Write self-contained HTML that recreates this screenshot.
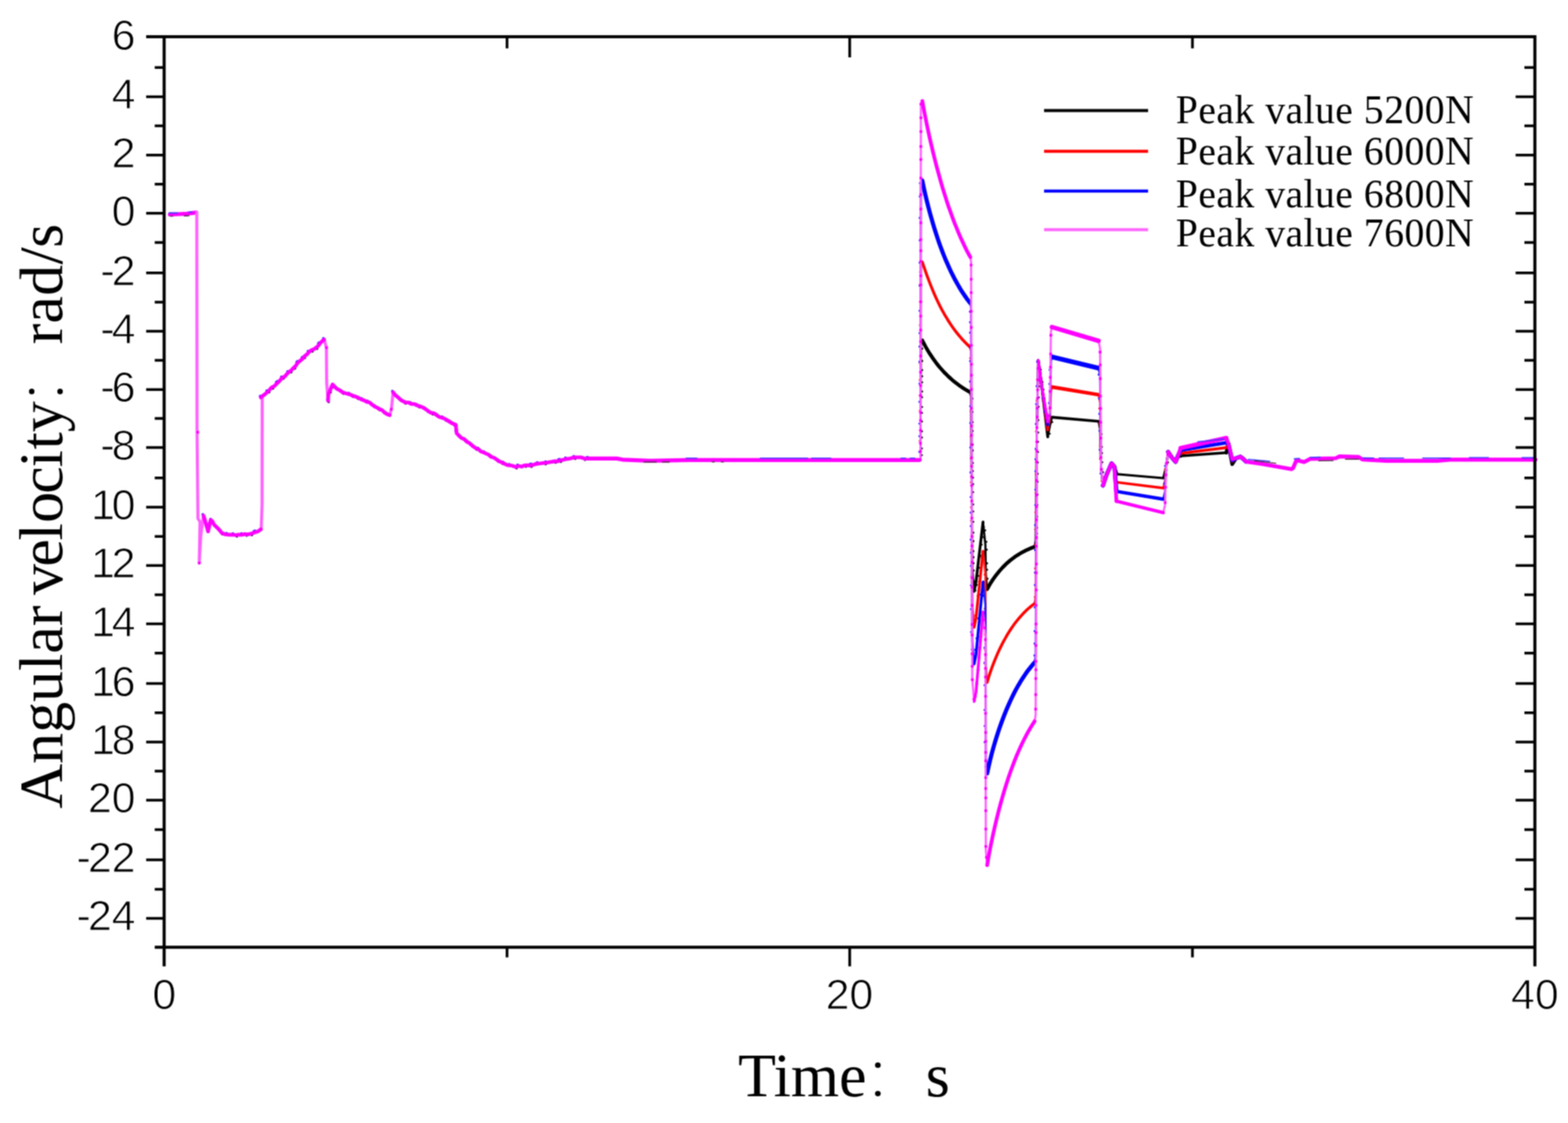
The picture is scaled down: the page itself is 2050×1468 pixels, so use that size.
<!DOCTYPE html>
<html lang="en"><head><meta charset="utf-8"><title>Angular velocity vs time</title>
<style>
html,body{margin:0;padding:0;background:#fff;}
body{width:2050px;height:1468px;overflow:hidden;}
svg{display:block;}
.ax{stroke:#000;stroke-width:4.0;fill:none;stroke-linecap:butt;}
.tk{stroke-width:3.5px;}
.tl{font-family:"Liberation Sans",sans-serif;font-size:56px;fill:#000;stroke:#fff;stroke-width:1px;}
.lg{font-family:"Liberation Serif",serif;font-size:51.8px;letter-spacing:0.64px;fill:#000;}
.at{font-family:"Liberation Serif","Noto Serif CJK SC",serif;font-size:81px;fill:#000;}
.cj{font-family:"Noto Serif CJK SC","Liberation Serif",serif;font-size:91.5px;stroke:#fff;stroke-width:3.8px;}
.c{fill:none;stroke-linejoin:round;stroke-linecap:round;}
</style></head><body>
<svg width="2050" height="1468" viewBox="0 0 2050 1468" role="img" aria-label="Angular velocity versus time for four peak force values">
<defs><filter id="soft" x="0" y="0" width="2050" height="1468" filterUnits="userSpaceOnUse" color-interpolation-filters="sRGB"><feConvolveMatrix order="3" kernelMatrix="1 2 1 2 4 2 1 2 1" divisor="16" edgeMode="duplicate" preserveAlpha="false"/></filter></defs>
<rect x="0" y="0" width="2050" height="1468" fill="#fff"/>
<g filter="url(#soft)">
<rect x="0" y="0" width="2050" height="1468" fill="#fff"/>
<g class="c" stroke="#000000">
<path stroke="#000000" stroke-width="2.8" d="M1203.4 601.3L1204.0 449.0L1205.8 445.0M1267.9 512.4L1269.6 518.4L1271.1 743.0L1273.6 773.0M1285.2 682.4L1288.3 712.4L1288.9 750.2L1290.6 770.2M1352.6 714.7L1354.0 706.7L1355.6 560.0L1357.4 471.4M1369.8 571.0L1372.6 557.0L1374.0 551.4L1375.2 545.4M1436.3 550.7L1438.2 560.7L1439.5 610.0L1442.0 634.7M1520.8 625.0L1523.2 615.0L1524.6 610.0L1527.2 590.8"/>
<path stroke-width="3.6" d="M1273.6 773.0L1276.0 761.0L1285.2 682.4M1357.4 471.4L1362.0 505.0L1369.8 571.0"/>
<path stroke-width="3.6" d="M1375.2 545.4L1436.3 550.7"/>
<path stroke-width="3.0" d="M1459.6 619.7L1520.8 625.0"/>
<path stroke-width="3.4" d="M1543.5 596.0L1603.3 591.7"/>
<path stroke-width="4.8" d="M1205.8 445.0L1207.8 448.9L1209.8 452.6L1211.8 456.1L1213.8 459.5L1215.8 462.7L1217.8 465.7L1219.8 468.6L1221.8 471.4L1223.8 474.1L1225.8 476.7L1227.8 479.2L1229.8 481.5L1231.8 483.8L1233.8 486.0L1235.8 488.1L1237.9 490.1L1239.9 492.1L1241.9 493.9L1243.9 495.7L1245.9 497.5L1247.9 499.1L1249.9 500.7L1251.9 502.2L1253.9 503.7L1255.9 505.1L1257.9 506.4L1259.9 507.7L1261.9 509.0L1263.9 510.2L1265.9 511.3L1267.9 512.4M1290.6 770.2L1292.6 766.5L1294.6 763.1L1296.6 759.9L1298.6 756.9L1300.6 754.1L1302.6 751.4L1304.6 748.9L1306.6 746.5L1308.6 744.2L1310.6 742.0L1312.6 740.0L1314.6 738.0L1316.6 736.1L1318.6 734.4L1320.6 732.7L1322.6 731.1L1324.6 729.6L1326.6 728.1L1328.6 726.8L1330.6 725.5L1332.6 724.2L1334.6 723.0L1336.6 721.9L1338.6 720.9L1340.6 719.8L1342.6 718.9L1344.6 718.0L1346.6 717.1L1348.6 716.3L1350.6 715.5L1352.6 714.7M1442.0 634.7L1447.0 620.0L1453.2 605.7L1457.0 610.0L1459.6 619.7M1527.2 590.8L1532.0 598.0L1537.0 603.8L1540.0 596.0L1543.5 596.0M1603.3 591.7L1606.0 580.0L1611.0 606.7L1616.0 599.0L1621.6 597.0L1625.0 599.5L1629.2 603.5"/>
<path stroke-width="2.6" d="M1205.2 595.0h0.01M1205.3 586.2h0.01M1205.3 571.9h0.01M1205.3 563.9h0.01M1205.4 551.0h0.01M1205.4 539.8h0.01M1205.5 532.0h0.01M1205.5 519.3h0.01M1205.6 511.7h0.01M1205.6 499.8h0.01M1205.6 491.9h0.01M1205.7 483.7h0.01M1205.7 471.9h0.01M1205.8 455.8h0.01M1206.5 447.4h0.01M1271.4 521.1h0.01M1271.5 538.5h0.01M1271.6 551.9h0.01M1271.7 563.4h0.01M1271.8 581.2h0.01M1271.9 588.9h0.01M1272.0 605.3h0.01M1272.0 615.7h0.01M1272.1 624.4h0.01M1272.2 632.9h0.01M1272.2 643.4h0.01M1272.3 659.4h0.01M1272.4 668.6h0.01M1272.5 682.1h0.01M1272.6 696.2h0.01M1272.7 707.4h0.01M1272.7 720.5h0.01M1272.8 728.4h0.01M1272.9 736.2h0.01M1273.1 745.7h0.01M1274.3 760.2h0.01M1275.3 771.9h0.01M1277.1 764.6h0.01M1278.8 752.7h0.01M1280.0 742.3h0.01M1281.8 726.6h0.01M1283.5 712.0h0.01M1284.7 702.2h0.01M1286.2 688.9h0.01M1288.1 693.3h0.01M1289.7 708.3h0.01M1290.2 718.6h0.01M1290.5 736.4h0.01M1290.6 744.8h0.01M1291.2 756.5h0.01M1355.2 709.9h0.01M1355.9 697.5h0.01M1356.0 689.9h0.01M1356.1 675.4h0.01M1356.3 660.0h0.01M1356.5 646.6h0.01M1356.6 629.9h0.01M1356.8 619.4h0.01M1356.9 604.6h0.01M1357.1 591.0h0.01M1357.2 577.6h0.01M1357.3 565.4h0.01M1357.6 549.2h0.01M1358.0 531.8h0.01M1358.2 519.5h0.01M1358.5 505.1h0.01M1358.7 497.2h0.01M1359.0 482.5h0.01M1360.8 483.2h0.01M1363.0 499.2h0.01M1364.3 509.3h0.01M1365.6 520.6h0.01M1367.3 535.0h0.01M1368.2 542.4h0.01M1369.6 554.5h0.01M1370.7 563.4h0.01M1372.4 567.0h0.01M1375.7 551.8h0.01M1439.2 556.3h0.01M1440.2 567.6h0.01M1440.6 584.2h0.01M1440.8 592.3h0.01M1441.2 604.3h0.01M1442.1 617.4h0.01M1443.7 634.1h0.01M1525.2 614.4h0.01M1527.1 604.5h0.01M1528.7 592.9h0.01"/>
</g>
<g class="c" stroke="#ff0000">
<path stroke="#ff2020" stroke-width="2.8" d="M1203.4 601.3L1204.0 346.5L1205.8 342.5M1267.9 453.4L1269.6 459.4L1271.1 790.0L1273.6 820.0M1285.2 720.6L1288.3 750.6L1288.9 872.0L1290.6 892.0M1352.6 788.9L1354.0 780.9L1355.6 560.0L1357.4 471.4M1369.8 562.0L1372.6 548.0L1374.0 511.9L1375.2 505.9M1436.3 516.0L1438.2 526.0L1439.5 610.0L1442.0 634.7M1520.8 638.0L1523.2 628.0L1524.6 610.0L1527.2 590.8"/>
<path stroke-width="3.6" d="M1273.6 820.0L1276.0 808.0L1285.2 720.6M1357.4 471.4L1362.0 505.0L1369.8 562.0"/>
<path stroke-width="4.8" d="M1375.2 505.9L1436.3 516.0"/>
<path stroke-width="3.4" d="M1459.6 630.4L1520.8 638.0"/>
<path stroke-width="3.8" d="M1543.5 592.7L1603.3 585.2"/>
<path stroke-width="3.8" d="M1205.8 342.5L1207.8 348.4L1209.8 354.2L1211.8 359.8L1213.8 365.2L1215.8 370.4L1217.8 375.4L1219.8 380.3L1221.8 384.9L1223.8 389.4L1225.8 393.7L1227.8 397.8L1229.8 401.8L1231.8 405.6L1233.8 409.2L1235.8 412.8L1237.9 416.1L1239.9 419.4L1241.9 422.5L1243.9 425.5L1245.9 428.4L1247.9 431.1L1249.9 433.8L1251.9 436.3L1253.9 438.8L1255.9 441.1L1257.9 443.4L1259.9 445.5L1261.9 447.6L1263.9 449.6L1265.9 451.5L1267.9 453.4M1290.6 892.0L1292.6 885.3L1294.6 879.1L1296.6 873.4L1298.6 868.0L1300.6 863.0L1302.6 858.2L1304.6 853.6L1306.6 849.2L1308.6 845.1L1310.6 841.1L1312.6 837.4L1314.6 833.8L1316.6 830.3L1318.6 827.0L1320.6 823.9L1322.6 820.9L1324.6 818.0L1326.6 815.2L1328.6 812.6L1330.6 810.1L1332.6 807.7L1334.6 805.4L1336.6 803.2L1338.6 801.1L1340.6 799.1L1342.6 797.2L1344.6 795.4L1346.6 793.7L1348.6 792.0L1350.6 790.4L1352.6 788.9M1442.0 634.7L1447.0 620.0L1453.2 605.7L1457.0 610.0L1459.6 630.4M1527.2 590.8L1532.0 598.0L1537.0 603.8L1540.0 596.0L1543.5 592.7M1603.3 585.2L1606.0 580.0L1611.0 603.0L1616.0 599.0L1621.6 597.0L1625.0 599.5L1629.2 603.5"/>
<path stroke-width="2.4" d="M1202.3 576.5h0.01M1202.4 537.0h0.01M1202.4 517.1h0.01M1202.4 496.7h0.01M1202.5 474.8h0.01M1202.5 453.0h0.01M1202.6 425.0h0.01M1202.7 394.5h0.01M1202.7 371.9h0.01M1202.8 355.6h0.01M1268.4 468.2h0.01M1268.6 498.2h0.01M1268.8 537.5h0.01M1268.9 570.5h0.01M1269.0 599.2h0.01M1269.2 630.4h0.01M1269.3 663.1h0.01M1269.4 680.6h0.01M1269.6 718.6h0.01M1269.7 753.8h0.01M1270.0 791.2h0.01M1275.1 804.7h0.01M1277.9 779.0h0.01M1279.8 760.4h0.01M1283.1 728.9h0.01M1285.0 729.9h0.01M1287.1 751.1h0.01M1287.2 771.2h0.01M1287.3 795.7h0.01M1287.4 813.2h0.01M1287.5 829.4h0.01M1287.6 849.3h0.01M1287.7 867.9h0.01M1352.8 780.4h0.01M1353.1 743.0h0.01M1353.3 711.9h0.01M1353.4 692.1h0.01M1353.6 669.7h0.01M1353.8 645.1h0.01M1354.0 620.0h0.01M1354.1 600.9h0.01M1354.4 564.0h0.01M1355.1 523.7h0.01M1355.7 496.2h0.01M1357.5 481.0h0.01M1360.1 499.5h0.01M1363.4 523.8h0.01M1366.4 546.3h0.01M1370.8 551.1h0.01M1371.9 534.4h0.01M1437.1 533.9h0.01M1437.4 553.7h0.01M1437.9 583.1h0.01M1438.1 599.9h0.01M1440.2 628.9h0.01M1523.1 613.9h0.01"/>
</g>
<g class="c" stroke="#0000ff">
<path stroke="#2020ff" stroke-width="2.8" d="M1203.4 601.3L1204.0 240.0L1205.8 236.0M1267.9 395.6L1269.6 401.6L1271.1 838.0L1273.6 868.0M1285.2 760.6L1288.3 790.6L1288.9 991.0L1290.6 1011.0M1352.6 866.0L1354.0 858.0L1355.6 560.0L1357.4 471.4M1369.8 555.5L1372.6 541.5L1374.0 472.5L1375.2 466.5M1436.3 481.2L1438.2 491.2L1439.5 610.0L1442.0 634.7M1520.8 652.5L1523.2 642.5L1524.6 610.0L1527.2 590.8"/>
<path stroke-width="3.6" d="M1273.6 868.0L1276.0 856.0L1285.2 760.6M1357.4 471.4L1362.0 505.0L1369.8 555.5"/>
<path stroke-width="6.2" d="M1375.2 466.5L1436.3 481.2"/>
<path stroke-width="4.4" d="M1459.6 642.3L1520.8 652.5"/>
<path stroke-width="4.6" d="M1543.5 588.4L1603.3 578.8"/>
<path stroke-width="5.4" d="M1205.8 236.0L1207.8 245.7L1209.8 254.6L1211.8 263.0L1213.8 270.9L1215.8 278.5L1217.8 285.6L1219.8 292.5L1221.8 299.1L1223.8 305.4L1225.8 311.5L1227.8 317.3L1229.8 322.9L1231.8 328.2L1233.8 333.4L1235.8 338.3L1237.9 343.1L1239.9 347.7L1241.9 352.1L1243.9 356.3L1245.9 360.3L1247.9 364.2L1249.9 367.9L1251.9 371.5L1253.9 375.0L1255.9 378.3L1257.9 381.5L1259.9 384.5L1261.9 387.4L1263.9 390.3L1265.9 393.0L1267.9 395.6M1290.6 1011.0L1292.6 1001.6L1294.6 993.1L1296.6 985.2L1298.6 977.9L1300.6 971.0L1302.6 964.4L1304.6 958.2L1306.6 952.2L1308.6 946.5L1310.6 941.0L1312.6 935.8L1314.6 930.7L1316.6 925.9L1318.6 921.3L1320.6 916.8L1322.6 912.6L1324.6 908.5L1326.6 904.6L1328.6 900.8L1330.6 897.2L1332.6 893.8L1334.6 890.4L1336.6 887.3L1338.6 884.2L1340.6 881.3L1342.6 878.4L1344.6 875.7L1346.6 873.2L1348.6 870.7L1350.6 868.3L1352.6 866.0M1442.0 634.7L1447.0 620.0L1453.2 605.7L1457.0 610.0L1459.6 642.3M1527.2 590.8L1532.0 598.0L1537.0 603.8L1540.0 596.0L1543.5 588.4M1603.3 578.8L1606.0 580.0L1611.0 601.5L1616.0 599.0L1621.6 597.0L1625.0 599.5L1629.2 603.5"/>
<path stroke-width="2.6" d="M1201.9 590.7h0.01M1202.0 570.2h0.01M1202.0 553.7h0.01M1202.0 525.2h0.01M1202.1 501.5h0.01M1202.1 472.9h0.01M1202.1 453.1h0.01M1202.2 435.5h0.01M1202.2 406.2h0.01M1202.3 373.5h0.01M1202.3 343.5h0.01M1202.4 314.3h0.01M1202.4 284.9h0.01M1202.5 257.0h0.01M1202.8 239.4h0.01M1268.1 407.4h0.01M1268.2 421.2h0.01M1268.2 434.9h0.01M1268.3 453.7h0.01M1268.3 472.0h0.01M1268.4 498.9h0.01M1268.5 531.0h0.01M1268.6 553.1h0.01M1268.7 584.9h0.01M1268.8 617.6h0.01M1269.0 649.7h0.01M1269.0 670.1h0.01M1269.1 687.7h0.01M1269.1 705.4h0.01M1269.2 722.5h0.01M1269.3 739.7h0.01M1269.4 765.3h0.01M1269.5 796.3h0.01M1269.6 826.2h0.01M1270.5 848.8h0.01M1275.1 849.4h0.01M1276.6 834.5h0.01M1279.1 808.4h0.01M1282.1 777.3h0.01M1285.6 778.7h0.01M1286.8 801.3h0.01M1286.9 818.0h0.01M1287.0 846.8h0.01M1287.0 866.6h0.01M1287.1 895.7h0.01M1287.2 928.1h0.01M1287.3 949.1h0.01M1287.3 970.3h0.01M1288.4 1002.2h0.01M1352.5 856.9h0.01M1352.6 841.2h0.01M1352.7 825.0h0.01M1352.8 793.9h0.01M1353.0 764.7h0.01M1353.1 748.6h0.01M1353.2 719.1h0.01M1353.4 686.4h0.01M1353.6 660.2h0.01M1353.7 640.1h0.01M1353.8 616.0h0.01M1353.9 600.2h0.01M1354.0 586.8h0.01M1354.2 554.3h0.01M1354.7 528.3h0.01M1355.2 504.7h0.01M1355.9 473.0h0.01M1358.6 491.2h0.01M1362.9 520.5h0.01M1365.5 537.7h0.01M1370.5 544.6h0.01M1371.4 526.7h0.01M1371.9 501.9h0.01M1372.3 483.6h0.01M1436.4 489.7h0.01M1437.0 520.9h0.01M1437.2 541.1h0.01M1437.5 563.3h0.01M1437.8 588.1h0.01M1438.9 619.1h0.01M1522.1 632.1h0.01M1523.2 609.0h0.01"/>
</g>
<path class="c" stroke="#1a0030" stroke-width="3.2" stroke-dasharray="0.1 13 0.1 7 0.1 19" transform="translate(0.9 1.7)" d="M266.0 674.0L267.5 678.5L269.0 684.0L270.0 687.6L271.0 690.8L272.0 694.6L272.9 691.0L273.8 687.3L274.6 682.6L275.5 679.6L277.7 681.5L279.8 685.8L282.0 688.0L284.7 690.5L287.3 693.3L290.0 696.7L295.0 698.7L300.0 699.0L304.0 698.9L308.0 699.5L312.0 698.8L316.0 699.1L320.0 698.1L324.0 698.7L328.5 697.6L333.0 696.0L337.0 694.7L341.0 692.0M341.0 519.5L343.8 517.2L346.5 515.2L349.2 512.7L352.0 510.0L355.2 506.4L358.5 504.8L361.7 501.5L364.3 499.2L367.0 496.1L369.6 493.2L372.3 492.2L374.9 489.0L377.8 486.3L380.8 484.1L383.7 481.0L386.6 478.2L389.5 474.0L392.4 471.6L395.3 469.2L398.3 465.4L401.2 463.3L404.1 460.0L407.2 457.8L410.2 456.6L413.2 454.5L416.3 451.7L418.8 448.4L421.2 445.8L423.7 443.9M428.9 523.8L429.2 518.5L429.6 514.3L431.3 511.2L433.1 506.3L434.8 502.5L437.7 505.7L440.6 508.4L444.2 510.2L447.9 512.8L451.4 514.0L454.9 514.9L458.5 516.0L462.0 517.6L465.5 518.6L469.0 520.2L472.5 522.3L476.1 523.4L479.6 525.3L483.1 526.0L486.4 528.8L489.7 531.3L493.0 532.9L496.3 534.8L499.6 536.2L502.9 539.4L506.2 541.6L509.5 542.8M513.9 512.8L516.8 516.5L519.7 518.8L522.6 521.6L526.3 524.2L530.0 526.0L533.9 526.2L537.8 528.1L541.7 528.2L545.4 530.0L549.0 531.1L552.6 532.4L556.3 534.8L560.0 537.4L563.6 539.7L567.3 540.1L571.0 542.8L574.2 545.0L577.4 545.9L580.7 547.0L583.9 548.9L587.1 550.9L591.5 553.6L595.9 555.3L596.3 559.7L596.6 561.9L597.0 566.4L601.3 570.8L604.2 573.1L607.1 574.1L610.1 577.4L613.0 578.7L615.9 581.1L619.1 583.8L622.3 586.0L625.6 587.2L628.8 590.2L632.0 591.3L635.4 592.9L638.8 594.4L642.2 597.3L645.7 598.3L649.1 600.5L652.5 603.0L656.4 604.6L660.4 606.7L664.3 608.2L669.4 608.7L674.5 610.4L678.2 609.0L681.9 610.0L685.5 608.4L689.2 608.2L692.9 608.5L696.5 607.9L700.2 606.5L703.8 606.1L707.5 605.7L711.1 605.2L714.8 604.9L718.4 604.2L722.1 603.5L725.8 603.0L729.4 603.0L733.1 601.6L736.8 600.9L740.4 600.0L744.1 599.7L747.7 598.6L751.6 597.9L755.6 597.8L759.5 597.9L764.6 599.5L769.7 599.4"/>
<path class="c" stroke="#2020ff" stroke-width="3.2" stroke-dasharray="0.1 11 0.1 17 1.5 8" transform="translate(-0.9 -1.7)" d="M266.0 674.0L267.5 678.5L269.0 684.0L270.0 687.6L271.0 690.8L272.0 694.6L272.9 691.0L273.8 687.3L274.6 682.6L275.5 679.6L277.7 681.5L279.8 685.8L282.0 688.0L284.7 690.5L287.3 693.3L290.0 696.7L295.0 698.7L300.0 699.0L304.0 698.9L308.0 699.5L312.0 698.8L316.0 699.1L320.0 698.1L324.0 698.7L328.5 697.6L333.0 696.0L337.0 694.7L341.0 692.0M341.0 519.5L343.8 517.2L346.5 515.2L349.2 512.7L352.0 510.0L355.2 506.4L358.5 504.8L361.7 501.5L364.3 499.2L367.0 496.1L369.6 493.2L372.3 492.2L374.9 489.0L377.8 486.3L380.8 484.1L383.7 481.0L386.6 478.2L389.5 474.0L392.4 471.6L395.3 469.2L398.3 465.4L401.2 463.3L404.1 460.0L407.2 457.8L410.2 456.6L413.2 454.5L416.3 451.7L418.8 448.4L421.2 445.8L423.7 443.9M428.9 523.8L429.2 518.5L429.6 514.3L431.3 511.2L433.1 506.3L434.8 502.5L437.7 505.7L440.6 508.4L444.2 510.2L447.9 512.8L451.4 514.0L454.9 514.9L458.5 516.0L462.0 517.6L465.5 518.6L469.0 520.2L472.5 522.3L476.1 523.4L479.6 525.3L483.1 526.0L486.4 528.8L489.7 531.3L493.0 532.9L496.3 534.8L499.6 536.2L502.9 539.4L506.2 541.6L509.5 542.8M513.9 512.8L516.8 516.5L519.7 518.8L522.6 521.6L526.3 524.2L530.0 526.0L533.9 526.2L537.8 528.1L541.7 528.2L545.4 530.0L549.0 531.1L552.6 532.4L556.3 534.8L560.0 537.4L563.6 539.7L567.3 540.1L571.0 542.8L574.2 545.0L577.4 545.9L580.7 547.0L583.9 548.9L587.1 550.9L591.5 553.6L595.9 555.3L596.3 559.7L596.6 561.9L597.0 566.4L601.3 570.8L604.2 573.1L607.1 574.1L610.1 577.4L613.0 578.7L615.9 581.1L619.1 583.8L622.3 586.0L625.6 587.2L628.8 590.2L632.0 591.3L635.4 592.9L638.8 594.4L642.2 597.3L645.7 598.3L649.1 600.5L652.5 603.0L656.4 604.6L660.4 606.7L664.3 608.2L669.4 608.7L674.5 610.4L678.2 609.0L681.9 610.0L685.5 608.4L689.2 608.2L692.9 608.5L696.5 607.9L700.2 606.5L703.8 606.1L707.5 605.7L711.1 605.2L714.8 604.9L718.4 604.2L722.1 603.5L725.8 603.0L729.4 603.0L733.1 601.6L736.8 600.9L740.4 600.0L744.1 599.7L747.7 598.6L751.6 597.9L755.6 597.8L759.5 597.9L764.6 599.5L769.7 599.4"/>
<g class="c" stroke="#ff00ff">
<path stroke="#ff60ff" stroke-width="2.8" d="M1203.4 601.3L1204.0 136.0L1205.8 132.0M1268.6 336.2L1269.6 342.2L1271.1 887.0L1273.6 917.0M1285.2 800.0L1288.3 830.0L1288.9 1111.0L1290.6 1131.0M1352.6 942.9L1354.0 934.9L1355.6 560.0L1357.4 471.4M1369.8 551.5L1372.6 537.5L1374.0 433.5L1375.2 427.5M1436.3 445.6L1438.2 455.6L1439.5 610.0L1442.0 634.7M1520.8 670.2L1523.2 660.2L1524.6 610.0L1527.2 590.8"/>
<path stroke-width="3.6" d="M1273.6 917.0L1276.0 905.0L1285.2 800.0M1357.4 471.4L1362.0 505.0L1369.8 551.5"/>
<path stroke-width="5.8" d="M1375.2 427.5L1436.3 445.6"/>
<path stroke-width="4.4" d="M1459.6 655.2L1520.8 670.2"/>
<path stroke-width="5.6" d="M1543.5 585.8L1603.3 572.5"/>
<path stroke-width="4.8" d="M1205.8 132.0L1207.8 143.1L1209.9 153.6L1211.9 163.6L1213.9 173.1L1215.9 182.3L1218.0 191.1L1220.0 199.6L1222.0 207.8L1224.0 215.7L1226.1 223.4L1228.1 230.7L1230.1 237.9L1232.1 244.8L1234.2 251.5L1236.2 257.9L1238.2 264.2L1240.2 270.2L1242.3 276.0L1244.3 281.6L1246.3 287.1L1248.3 292.3L1250.4 297.4L1252.4 302.3L1254.4 307.1L1256.4 311.7L1258.5 316.1L1260.5 320.4L1262.5 324.6L1264.5 328.6L1266.6 332.5L1268.6 336.2M1290.6 1131.0L1292.6 1119.4L1294.6 1108.8L1296.6 1098.9L1298.6 1089.6L1300.6 1080.7L1302.6 1072.2L1304.6 1064.2L1306.6 1056.4L1308.6 1049.0L1310.6 1041.9L1312.6 1035.0L1314.6 1028.5L1316.6 1022.2L1318.6 1016.1L1320.6 1010.3L1322.6 1004.7L1324.6 999.3L1326.6 994.2L1328.6 989.2L1330.6 984.4L1332.6 979.9L1334.6 975.5L1336.6 971.2L1338.6 967.2L1340.6 963.3L1342.6 959.5L1344.6 955.9L1346.6 952.5L1348.6 949.1L1350.6 946.0L1352.6 942.9M1442.0 634.7L1447.0 620.0L1453.2 605.7L1457.0 610.0L1459.6 655.2M1527.2 590.8L1532.0 598.0L1537.0 603.8L1540.0 596.0L1543.5 585.8M1603.3 572.5L1606.0 580.0L1611.0 600.3L1616.0 599.0L1621.6 597.0L1625.0 599.5L1629.2 603.5"/>
<path stroke-width="5.2" d="M222.0 280.3L232.0 280.0L244.0 279.3L256.3 277.8M769.7 599.4L806.3 599.4L813.7 600.8L850.0 602.3L900.0 601.3L1202.0 601.3M1629.2 603.5L1650.0 606.5L1688.4 613.2L1690.5 612.0L1695.0 601.5L1705.0 604.0L1713.0 599.8L1746.3 599.0L1751.3 596.6L1776.2 597.3L1781.2 600.6L1812.7 602.3L1879.0 602.3L1895.6 600.8L2007.5 600.8"/>
<path stroke="#ff60ff" stroke-width="4.0" d="M257.3 277.6L257.6 560.0L258.8 678.0L261.5 682.0L260.5 736.0M260.5 736.0L262.5 700.0L266.0 674.0M341.5 692.0L342.6 660.0L342.8 517.5M423.8 443.9L426.7 454.2L427.1 500.0L428.9 523.8M509.5 542.8L511.7 534.8L513.9 512.8"/>
<path stroke-width="4.8" d="M266.0 674.0L267.5 678.5L269.0 684.0L270.0 687.6L271.0 690.8L272.0 694.6L272.9 691.0L273.8 687.3L274.6 682.6L275.5 679.6L277.7 681.5L279.8 685.8L282.0 688.0L284.7 690.5L287.3 693.3L290.0 696.7L295.0 698.7L300.0 699.0L304.0 698.9L308.0 699.5L312.0 698.8L316.0 699.1L320.0 698.1L324.0 698.7L328.5 697.6L333.0 696.0L337.0 694.7L341.0 692.0M341.0 519.5L343.8 517.2L346.5 515.2L349.2 512.7L352.0 510.0L355.2 506.4L358.5 504.8L361.7 501.5L364.3 499.2L367.0 496.1L369.6 493.2L372.3 492.2L374.9 489.0L377.8 486.3L380.8 484.1L383.7 481.0L386.6 478.2L389.5 474.0L392.4 471.6L395.3 469.2L398.3 465.4L401.2 463.3L404.1 460.0L407.2 457.8L410.2 456.6L413.2 454.5L416.3 451.7L418.8 448.4L421.2 445.8L423.7 443.9M428.9 523.8L429.2 518.5L429.6 514.3L431.3 511.2L433.1 506.3L434.8 502.5L437.7 505.7L440.6 508.4L444.2 510.2L447.9 512.8L451.4 514.0L454.9 514.9L458.5 516.0L462.0 517.6L465.5 518.6L469.0 520.2L472.5 522.3L476.1 523.4L479.6 525.3L483.1 526.0L486.4 528.8L489.7 531.3L493.0 532.9L496.3 534.8L499.6 536.2L502.9 539.4L506.2 541.6L509.5 542.8M513.9 512.8L516.8 516.5L519.7 518.8L522.6 521.6L526.3 524.2L530.0 526.0L533.9 526.2L537.8 528.1L541.7 528.2L545.4 530.0L549.0 531.1L552.6 532.4L556.3 534.8L560.0 537.4L563.6 539.7L567.3 540.1L571.0 542.8L574.2 545.0L577.4 545.9L580.7 547.0L583.9 548.9L587.1 550.9L591.5 553.6L595.9 555.3L596.3 559.7L596.6 561.9L597.0 566.4L601.3 570.8L604.2 573.1L607.1 574.1L610.1 577.4L613.0 578.7L615.9 581.1L619.1 583.8L622.3 586.0L625.6 587.2L628.8 590.2L632.0 591.3L635.4 592.9L638.8 594.4L642.2 597.3L645.7 598.3L649.1 600.5L652.5 603.0L656.4 604.6L660.4 606.7L664.3 608.2L669.4 608.7L674.5 610.4L678.2 609.0L681.9 610.0L685.5 608.4L689.2 608.2L692.9 608.5L696.5 607.9L700.2 606.5L703.8 606.1L707.5 605.7L711.1 605.2L714.8 604.9L718.4 604.2L722.1 603.5L725.8 603.0L729.4 603.0L733.1 601.6L736.8 600.9L740.4 600.0L744.1 599.7L747.7 598.6L751.6 597.9L755.6 597.8L759.5 597.9L764.6 599.5L769.7 599.4"/>
<path stroke-width="4.0" d="M1203.4 590.0h0.01M1203.4 579.5h0.01M1203.4 562.6h0.01M1203.5 549.5h0.01M1203.5 539.3h0.01M1203.5 516.9h0.01M1203.5 504.0h0.01M1203.5 486.6h0.01M1203.6 465.3h0.01M1203.6 446.6h0.01M1203.6 431.4h0.01M1203.6 413.3h0.01M1203.7 394.6h0.01M1203.7 372.4h0.01M1203.7 360.5h0.01M1203.7 341.8h0.01M1203.8 327.8h0.01M1203.8 313.3h0.01M1203.8 291.3h0.01M1203.8 273.3h0.01M1203.8 254.5h0.01M1203.9 232.7h0.01M1203.9 208.6h0.01M1203.9 191.6h0.01M1204.0 172.0h0.01M1204.0 154.1h0.01M1204.0 136.0h0.01M1269.6 346.6h0.01M1269.7 365.0h0.01M1269.7 382.5h0.01M1269.8 407.1h0.01M1269.8 428.0h0.01M1269.9 451.6h0.01M1270.0 476.2h0.01M1270.0 490.4h0.01M1270.1 509.1h0.01M1270.1 533.8h0.01M1270.2 556.8h0.01M1270.2 569.1h0.01M1270.3 581.2h0.01M1270.3 598.2h0.01M1270.3 609.5h0.01M1270.4 623.3h0.01M1270.4 634.7h0.01M1270.5 655.1h0.01M1270.5 677.3h0.01M1270.6 701.2h0.01M1270.6 713.8h0.01M1270.7 734.9h0.01M1270.7 755.2h0.01M1270.8 767.6h0.01M1270.8 791.3h0.01M1270.9 816.3h0.01M1270.9 829.9h0.01M1271.0 854.7h0.01M1271.1 871.0h0.01M1271.2 888.6h0.01M1273.3 913.9h0.01M1275.0 910.1h0.01M1277.0 893.5h0.01M1278.6 875.4h0.01M1279.9 860.1h0.01M1281.1 847.0h0.01M1282.4 831.9h0.01M1284.3 810.8h0.01M1285.2 800.3h0.01M1286.3 810.3h0.01M1287.3 820.7h0.01M1288.3 835.9h0.01M1288.4 855.7h0.01M1288.4 873.7h0.01M1288.4 884.9h0.01M1288.5 910.2h0.01M1288.5 932.4h0.01M1288.6 957.5h0.01M1288.6 969.3h0.01M1288.6 983.6h0.01M1288.7 994.4h0.01M1288.7 1016.5h0.01M1288.7 1030.8h0.01M1288.8 1043.0h0.01M1288.8 1059.7h0.01M1288.8 1083.8h0.01M1288.9 1106.5h0.01M1289.7 1120.7h0.01M1354.0 927.0h0.01M1354.1 908.0h0.01M1354.2 887.1h0.01M1354.3 875.6h0.01M1354.3 864.5h0.01M1354.4 843.7h0.01M1354.5 827.0h0.01M1354.5 815.7h0.01M1354.6 791.2h0.01M1354.7 771.3h0.01M1354.8 748.8h0.01M1354.8 737.3h0.01M1354.9 714.0h0.01M1355.0 702.8h0.01M1355.1 679.4h0.01M1355.2 662.3h0.01M1355.2 646.9h0.01M1355.3 628.2h0.01M1355.4 603.8h0.01M1355.5 589.5h0.01M1355.5 577.4h0.01M1355.6 559.1h0.01M1355.9 545.2h0.01M1356.1 533.4h0.01M1356.4 520.7h0.01M1356.6 509.7h0.01M1356.9 496.5h0.01M1357.2 481.5h0.01M1359.3 485.4h0.01M1361.3 499.9h0.01M1364.1 517.5h0.01M1366.2 530.3h0.01M1368.8 545.6h0.01M1371.4 543.6h0.01M1372.7 533.3h0.01M1372.9 511.8h0.01M1373.2 493.2h0.01M1373.4 480.1h0.01M1373.6 462.7h0.01M1373.9 438.2h0.01M1438.2 460.3h0.01M1438.4 477.1h0.01M1438.5 494.9h0.01M1438.7 517.8h0.01M1438.9 534.0h0.01M1439.0 552.0h0.01M1439.2 572.7h0.01M1439.4 597.9h0.01M1439.8 613.4h0.01M1523.3 657.0h0.01M1523.8 637.1h0.01M1524.3 620.7h0.01M1525.3 605.2h0.01M1526.7 594.3h0.01M258.6 565.0h0.01M260.5 736.0h0.01M426.8 454.5h0.01M428.8 523.5h0.01M511.6 535.0h0.01"/>
</g>
<path class="c" stroke="#3a3aff" stroke-width="1.6" stroke-linecap="butt" d="M221.0 278.4L232.0 278.4M247.0 277.2L251.0 277.2M897.0 599.0L911.0 599.0M994.0 599.0L1056.0 599.0M1061.0 599.0L1086.0 599.0M1178.0 599.0L1184.0 599.0M1190.0 599.0L1196.0 599.0M1692.0 599.8L1699.0 599.2M1713.0 598.0L1726.0 597.6M1782.0 598.6L1796.0 598.8M1803.0 598.8L1835.0 598.8M1860.0 598.8L1896.0 598.8M1921.0 598.2L1946.0 598.2M1990.0 598.4L2005.0 598.4M1566.0 577.5L1600.0 574.0M1632.0 600.5L1660.0 603.0"/>
<path class="c" stroke="#5a2a4a" stroke-width="1.4" stroke-linecap="butt" d="M223.0 282.6L226.0 282.6M241.0 282.2L247.0 282.0M842.0 604.0L858.0 604.0M866.0 604.0L875.0 604.0M931.0 603.8L934.0 603.8M943.0 603.8L946.0 603.8M1724.0 602.4L1743.0 602.0M1759.0 600.2L1776.0 600.2M1640.0 602.2L1668.0 605.6"/>
<path class="ax tk" d="M202.3 88.3H214.6M1993.0 88.3H2006.7M191.1 126.4H214.6M1981.5 126.4H2006.7M202.3 164.4H214.6M1993.0 164.4H2006.7M191.1 202.7H214.6M1981.5 202.7H2006.7M202.3 240.7H214.6M1993.0 240.7H2006.7M191.1 278.7H214.6M1981.5 278.7H2006.7M202.3 316.9H214.6M1993.0 316.9H2006.7M191.1 356.7H214.6M1981.5 356.7H2006.7M202.3 395.0H214.6M1993.0 395.0H2006.7M191.1 432.9H214.6M1981.5 432.9H2006.7M202.3 471.0H214.6M1993.0 471.0H2006.7M191.1 509.2H214.6M1981.5 509.2H2006.7M202.3 547.1H214.6M1993.0 547.1H2006.7M191.1 585.0H214.6M1981.5 585.0H2006.7M202.3 624.7H214.6M1993.0 624.7H2006.7M191.1 663.0H214.6M1981.5 663.0H2006.7M202.3 701.2H214.6M1993.0 701.2H2006.7M191.1 739.2H214.6M1981.5 739.2H2006.7M202.3 777.5H214.6M1993.0 777.5H2006.7M191.1 815.6H214.6M1981.5 815.6H2006.7M202.3 853.7H214.6M1993.0 853.7H2006.7M191.1 893.5H214.6M1981.5 893.5H2006.7M202.3 931.7H214.6M1993.0 931.7H2006.7M191.1 969.9H214.6M1981.5 969.9H2006.7M202.3 1007.9H214.6M1993.0 1007.9H2006.7M191.1 1046.1H214.6M1981.5 1046.1H2006.7M202.3 1084.4H214.6M1993.0 1084.4H2006.7M191.1 1124.1H214.6M1981.5 1124.1H2006.7M202.3 1162.4H214.6M1993.0 1162.4H2006.7M191.1 1200.4H214.6M1981.5 1200.4H2006.7M662.9 1238.3V1251.6M662.9 47.9V63.2M1110.9 1238.3V1263.3M1110.9 47.9V74.9M1559.0 1238.3V1251.6M1559.0 47.9V63.2"/>
<path class="ax" d="M214.6 45.9V1263.3M2006.7 45.9V1263.3M191.1 47.9H2008.7M202.3 1238.3H2008.7"/>
<g class="tl">
<text x="146.1" y="65.3">6</text>
<text x="146.1" y="142.4">4</text>
<text x="146.1" y="218.7">2</text>
<text x="146.1" y="294.7">0</text>
<text x="131.2 146.1" y="372.7">-2</text>
<text x="131.2 146.1" y="448.9">-4</text>
<text x="131.2 146.1" y="525.2">-6</text>
<text x="131.2 146.1" y="601.0">-8</text>
<text x="118.9 146.1" y="679.0">10</text>
<text x="118.9 146.1" y="755.2">12</text>
<text x="118.9 146.1" y="831.6">14</text>
<text x="118.9 146.1" y="909.5">16</text>
<text x="118.9 146.1" y="985.9">18</text>
<text x="114.9 146.1" y="1062.1">20</text>
<text x="100.1 114.9 146.1" y="1140.1">-22</text>
<text x="100.1 114.9 146.1" y="1216.4">-24</text>
</g>
<g class="tl" text-anchor="middle">
<text x="214.9" y="1318.8">0</text>
<text x="1110.6" y="1318.8">20</text>
<text x="2006.7" y="1318.8">40</text>
</g>
<text class="at" x="965.0 1011.6 1034.1 1097.1" y="1433.3">Time<tspan class="cj" x="1126.4" y="1438.3">：</tspan><tspan x="1210.2" y="1433.3">s</tspan></text>
<text class="at" transform="translate(81 1056) rotate(-90)" x="-1.0 57.5 98.0 138.5 179.0 201.5 237.4 264.4 278.2 315.2 349.6 372.6 410.6 445.1 468.6 491.1" y="0">Angular velocity<tspan class="cj" x="523" y="6">：</tspan><tspan x="606 633 669.3 710.3 732" y="0">rad/s</tspan></text>
<line x1="1365" y1="144.4" x2="1501" y2="144.4" stroke="#000000" stroke-width="4.0"/>
<text class="lg" x="1537.3" y="161.3">Peak value 5200N</text>
<line x1="1365" y1="197.8" x2="1501" y2="197.8" stroke="#ff0000" stroke-width="4.0"/>
<text class="lg" x="1537.3" y="215.3">Peak value 6000N</text>
<line x1="1365" y1="249.7" x2="1501" y2="249.7" stroke="#0000ff" stroke-width="4.0"/>
<text class="lg" x="1537.3" y="271.3">Peak value 6800N</text>
<line x1="1365" y1="300.2" x2="1501" y2="300.2" stroke="#ff66ff" stroke-width="4.0"/>
<text class="lg" x="1537.3" y="321.5">Peak value 7600N</text>
</g>
</svg>
</body></html>
